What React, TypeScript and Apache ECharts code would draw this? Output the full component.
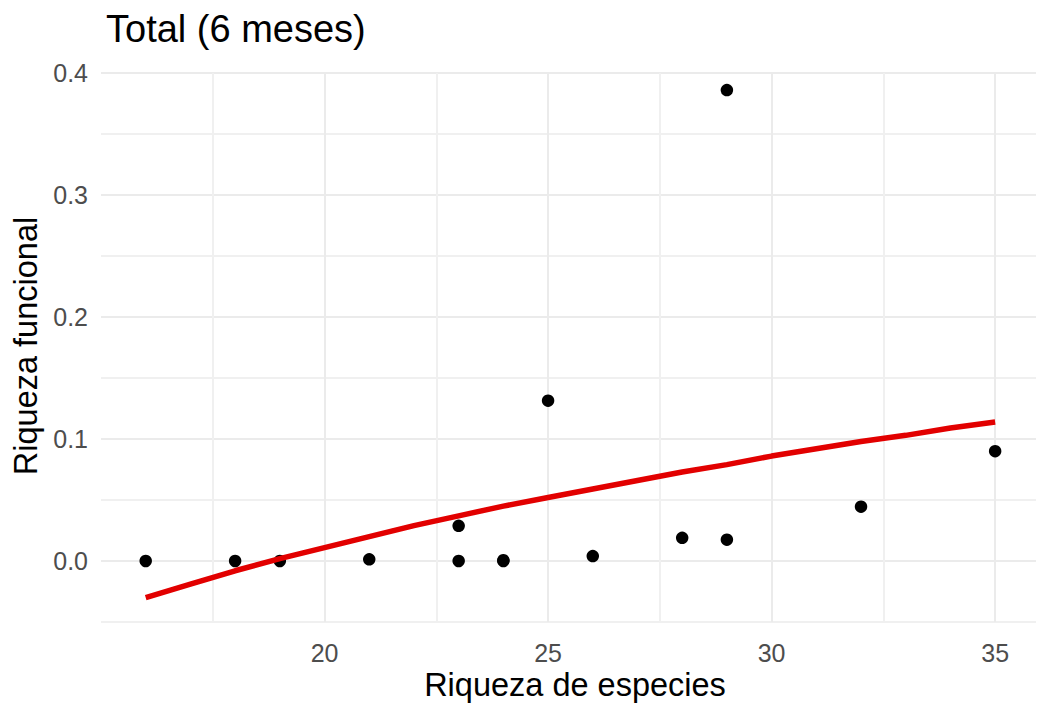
import React, { useEffect, useRef } from "react";
import * as echarts from "echarts";

// Scatter data (species richness vs functional richness)
const speciesRichness = [16, 18, 19, 21, 23, 23, 24, 24, 25, 26, 28, 29, 29, 32, 35];
const functionalRichness = [0.0, 0.0, 0.0, 0.0014, 0.0288, 0.0, 0.0, 0.0006, 0.1314, 0.004, 0.019, 0.0175, 0.386, 0.0445, 0.09];

// Fitted curve (red)
const fitSpecies = [16, 17, 18, 19, 20, 21, 22, 23, 24, 25, 26, 27, 28, 29, 30, 31, 32, 33, 34, 35];
const fitFunctional = [-0.03, -0.019, -0.008, 0.002, 0.011, 0.02, 0.029, 0.037, 0.045, 0.052, 0.059, 0.066, 0.073, 0.079, 0.086, 0.092, 0.098, 0.103, 0.109, 0.114];

const xTickLabels = [20, 25, 30, 35];
const yTickLabels = [0, 0.1, 0.2, 0.3, 0.4];

const titleText = "Total (6 meses)";
const xTitle = "Riqueza de especies";
const yTitle = "Riqueza funcional";

const FONT = '"Liberation Sans", Arial, Helvetica, sans-serif';

export default function App() {
  const ref = useRef<HTMLDivElement>(null);

  useEffect(() => {
    if (!ref.current) return;
    const chart = echarts.init(ref.current, null, { renderer: "svg" });
    const isTick = (list: number[], v: number) => list.some((t) => Math.abs(t - v) < 1e-6);
    const major = "#EBEBEB";
    const minor = "#F0F0F0";

    chart.setOption({
      animation: false,
      backgroundColor: "#FFFFFF",
      grid: { left: 101, right: 0, top: 73, bottom: 87, containLabel: false },
      xAxis: {
        type: "value",
        min: 15,
        max: 35.914,
        interval: 2.5,
        axisLine: { show: false },
        axisTick: { show: false },
        axisLabel: {
          formatter: (v: number) => (isTick(xTickLabels, v) ? String(Math.round(v)) : ""),
          color: "#4D4D4D",
          fontSize: 25,
          fontFamily: FONT,
          margin: 18,
          hideOverlap: false,
        },
        splitLine: {
          show: true,
          showMinLine: false,
          showMaxLine: false,
          lineStyle: { color: [minor, major], width: 2 },
        },
      },
      yAxis: {
        type: "value",
        min: -0.05,
        max: 0.4,
        interval: 0.05,
        axisLine: { show: false },
        axisTick: { show: false },
        axisLabel: {
          formatter: (v: number) => (isTick(yTickLabels, v) ? v.toFixed(1) : ""),
          color: "#4D4D4D",
          fontSize: 25,
          fontFamily: FONT,
          margin: 13,
          padding: [7, 0, 0, 0],
          hideOverlap: false,
        },
        splitLine: {
          show: true,
          lineStyle: { color: [minor, major], width: 2 },
        },
      },
      series: [
        {
          type: "scatter",
          data: speciesRichness.map((x, i) => [x, functionalRichness[i]]),
          symbol: "circle",
          symbolSize: 12.5,
          itemStyle: { color: "#000000", opacity: 1 },
          emphasis: { disabled: true },
          z: 2,
        },
        {
          type: "line",
          data: fitSpecies.map((x, i) => [x, fitFunctional[i]]),
          showSymbol: false,
          symbol: "none",
          lineStyle: { color: "#E20000", width: 5.5, cap: "butt" },
          emphasis: { disabled: true },
          z: 3,
        },
      ],
      graphic: [
        {
          type: "text",
          x: 106,
          y: 29,
          style: {
            text: titleText,
            font: `38px ${FONT}`,
            fill: "#000000",
            align: "left",
            verticalAlign: "middle",
            textAlign: "left",
            textVerticalAlign: "middle",
          },
        },
        {
          type: "text",
          x: 575,
          y: 685,
          style: {
            text: xTitle,
            font: `32.5px ${FONT}`,
            fill: "#000000",
            align: "center",
            verticalAlign: "middle",
            textAlign: "center",
            textVerticalAlign: "middle",
          },
        },
        {
          type: "text",
          x: 25.5,
          y: 346,
          rotation: Math.PI / 2,
          style: {
            text: yTitle,
            font: `32.5px ${FONT}`,
            fill: "#000000",
            align: "center",
            verticalAlign: "middle",
            textAlign: "center",
            textVerticalAlign: "middle",
          },
        },
      ],
    });

    return () => chart.dispose();
  }, []);

  return (
    <div
      ref={ref}
      style={{ position: "absolute", left: 0, top: 0, width: 1039, height: 709 }}
    />
  );
}
